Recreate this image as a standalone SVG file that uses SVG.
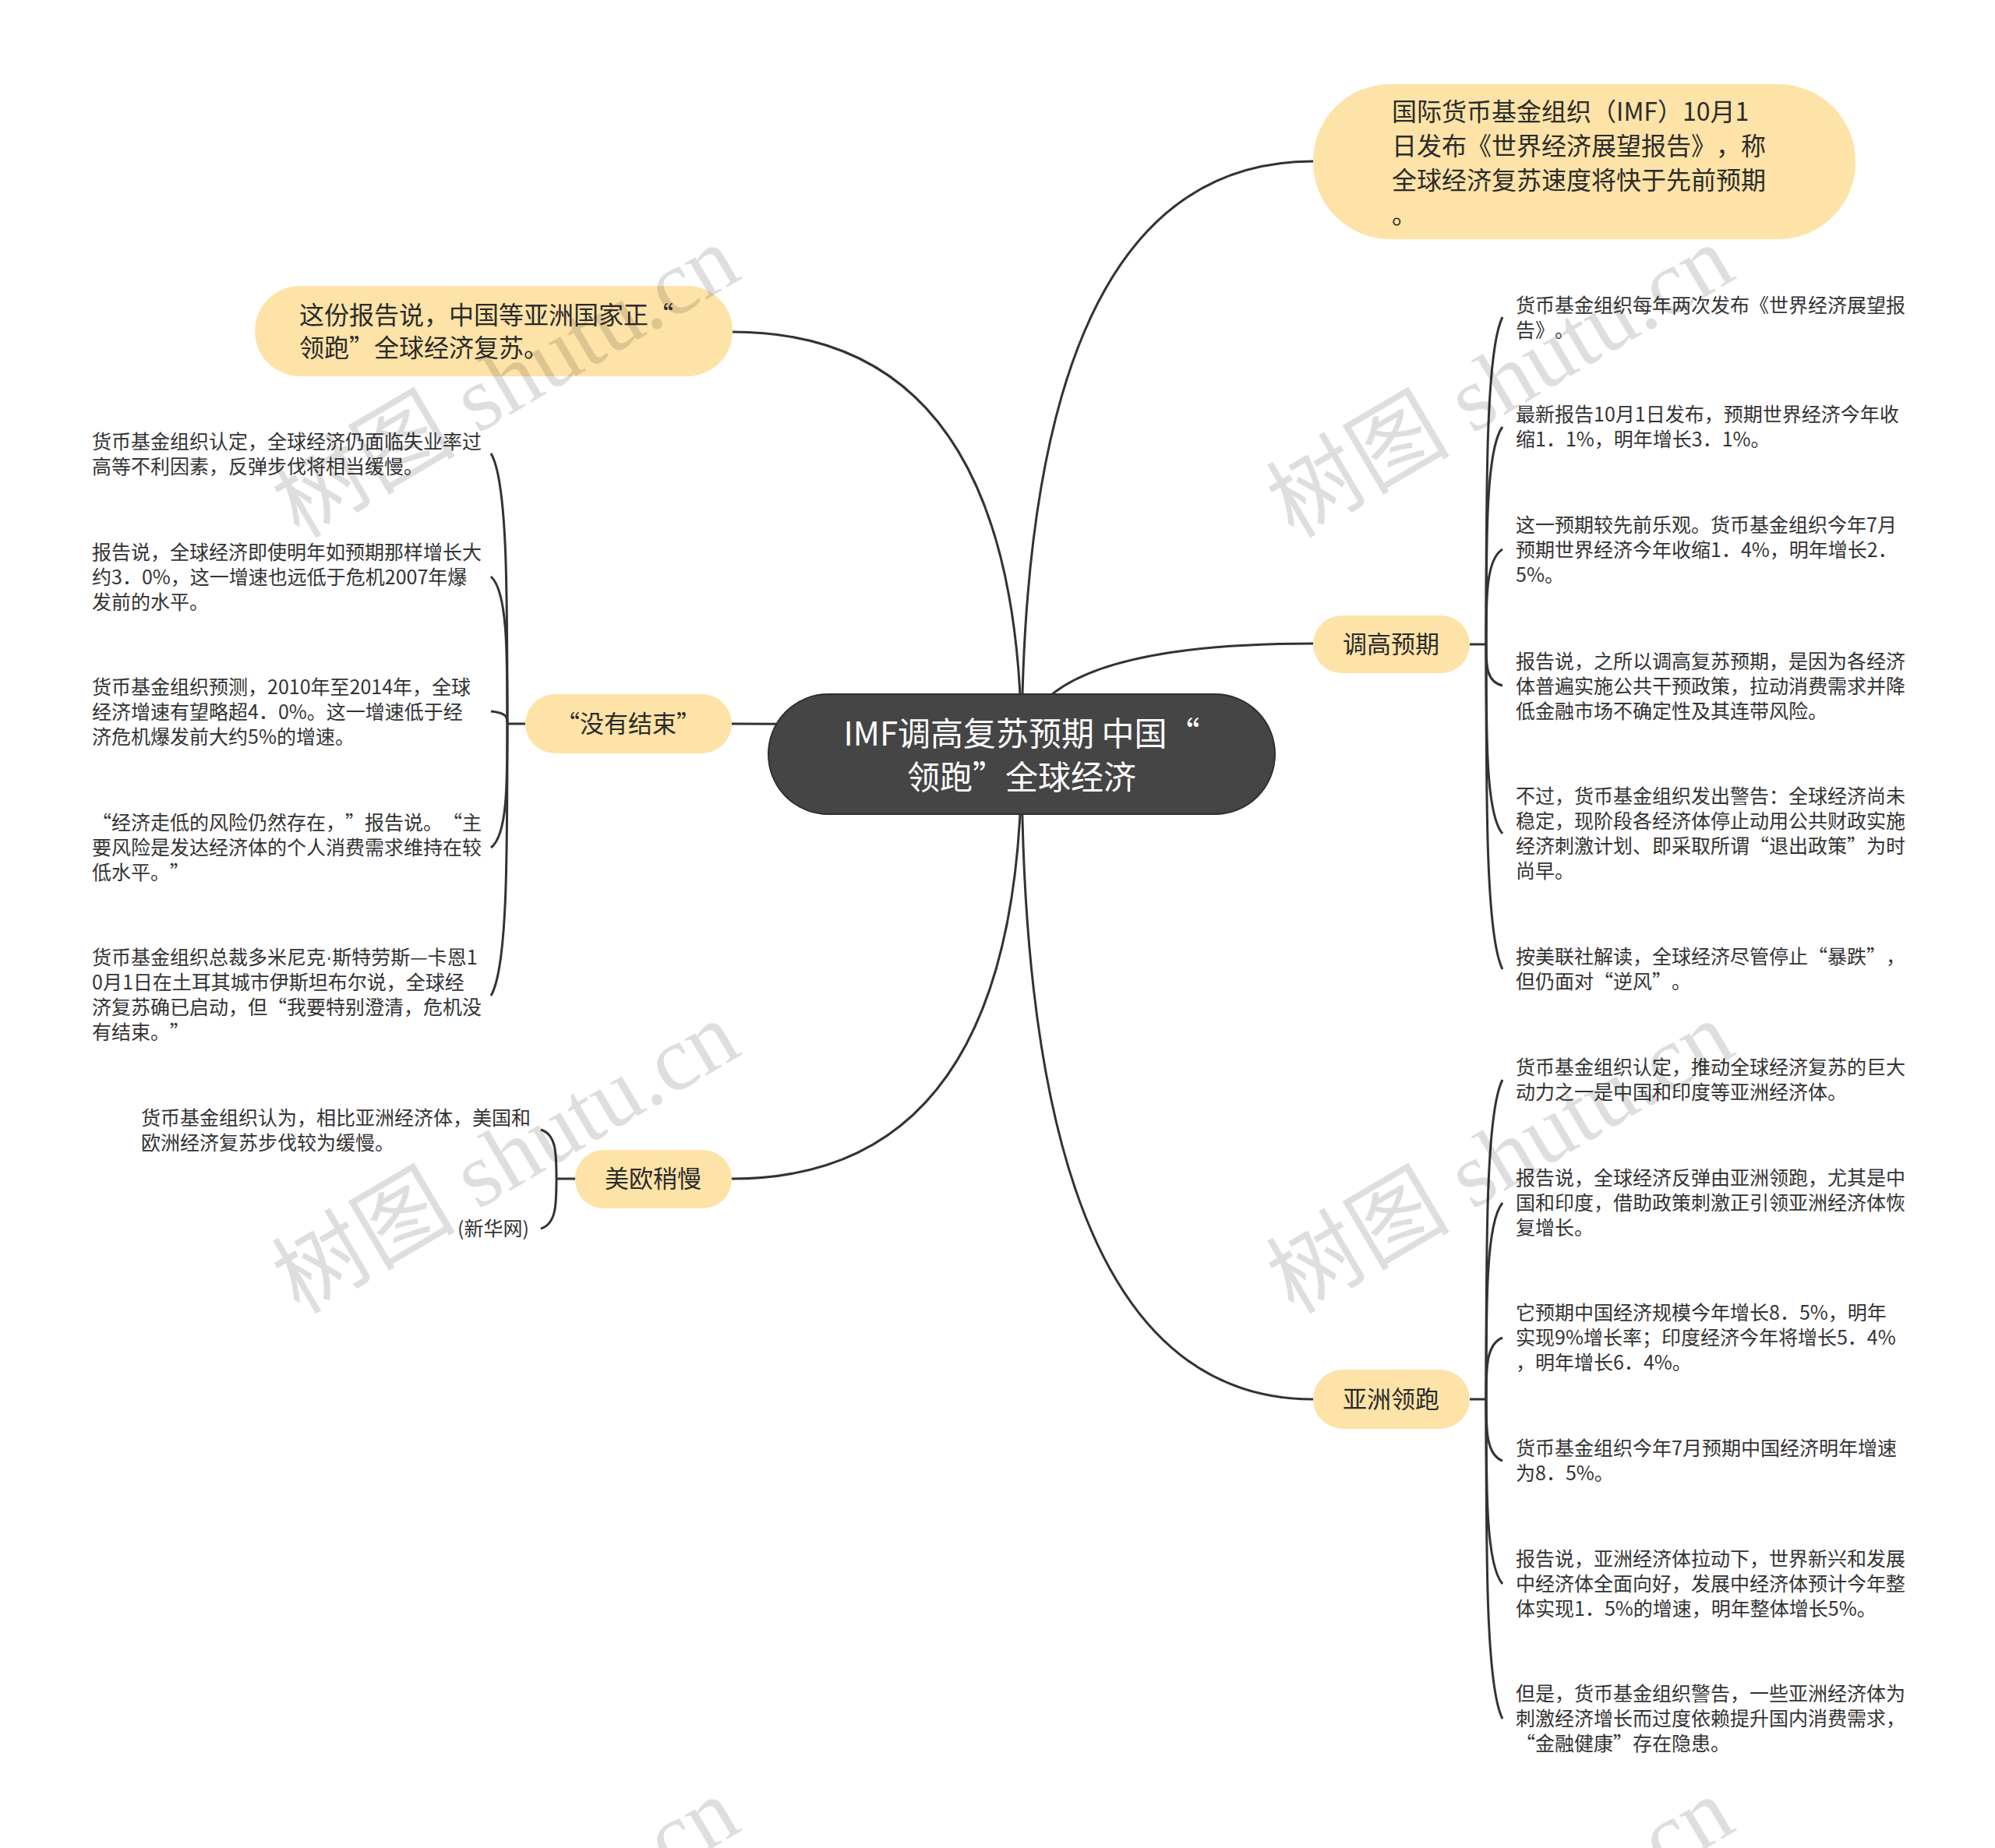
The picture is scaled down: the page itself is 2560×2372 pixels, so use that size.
<svg xmlns="http://www.w3.org/2000/svg" width="2560" height="2372" viewBox="0 0 2560 2372">
<style>
.conn{fill:none;stroke:#333;stroke-width:3}
.br{fill:none;stroke:#333;stroke-width:3}
.yn{fill:#FDE3A7}
.t{font-family:"Noto Sans CJK SC","Noto Sans",sans-serif;fill:#2b2b2b;text-spacing-trim:space-all}
.l1{font-size:31px;text-anchor:middle}
.leaf{font-size:25px;fill:#333}
.ls{font-family:"Liberation Sans",sans-serif}
.wm{font-family:"Liberation Serif","Noto Sans CJK SC",serif;font-size:118px;fill:#000;fill-opacity:0.13}
</style>
<rect width="2560" height="2372" fill="#fff"/>
<g id="connectors">
<path class="conn" d="M1311 968 Q1311 207 1685 207"/>
<path class="conn" d="M1311 968 Q1311 826 1685 826"/>
<path class="conn" d="M1311 968 Q1311 1796 1685 1796"/>
<path class="conn" d="M1311 968 Q1311 1513 939 1513"/>
<path class="conn" d="M1311 968 Q1311 426 940 426"/>
<path class="conn" d="M1311 968 Q1311 929 939 929"/>
<path class="br" d="M1886 827 L1907 827"/>
<path class="br" d="M1907 827 C1907 617 1907 449 1928 407"/>
<path class="br" d="M1907 827 C1907 688 1907 576 1928 548"/>
<path class="br" d="M1907 827 C1907 766 1907 718 1928 705"/>
<path class="br" d="M1907 827 C1907 854 1907 875 1928 880"/>
<path class="br" d="M1907 827 C1907 948 1907 1046 1928 1070"/>
<path class="br" d="M1907 827 C1907 1035 1907 1202 1928 1244"/>
<path class="br" d="M1886 1796 L1907 1796"/>
<path class="br" d="M1907 1796 C1907 1591 1907 1427 1928 1386"/>
<path class="br" d="M1907 1796 C1907 1670 1907 1569 1928 1544"/>
<path class="br" d="M1907 1796 C1907 1756 1907 1725 1928 1717"/>
<path class="br" d="M1907 1796 C1907 1835 1907 1867 1928 1875"/>
<path class="br" d="M1907 1796 C1907 1914 1907 2009 1928 2033"/>
<path class="br" d="M1907 1796 C1907 2001 1907 2165 1928 2206"/>
<path class="br" d="M674 929 L651 929"/>
<path class="br" d="M651 929 C651 756 651 617 630 582"/>
<path class="br" d="M651 929 C651 835 651 759 630 740"/>
<path class="br" d="M651 929 C651 921 651 915 630 913"/>
<path class="br" d="M651 929 C651 1008 651 1072 630 1088"/>
<path class="br" d="M651 929 C651 1103 651 1243 630 1278"/>
<path class="br" d="M738 1513 L714 1513"/>
<path class="br" d="M714 1513 C714 1481 714 1456 694 1450"/>
<path class="br" d="M714 1513 C714 1545 714 1571 694 1577"/>
</g>
<g id="center">
<rect x="986" y="891" width="650" height="154" rx="77" fill="#454545" stroke="#2e2e2e" stroke-width="2"/>
<text class="t" font-size="42" text-anchor="middle" style="fill:#fff"><tspan x="1311" y="957">IMF调高复苏预期 中国“</tspan><tspan x="1311" y="1013">领跑”全球经济</tspan></text>
</g>
<g id="n-imf">
<rect class="yn" x="1685" y="108" width="696" height="199" rx="99"/>
<text class="t" font-size="32"><tspan x="1786" y="155">国际货币基金组织（IMF）10月1</tspan><tspan x="1786" y="199">日发布《世界经济展望报告》，称</tspan><tspan x="1786" y="243">全球经济复苏速度将快于先前预期</tspan><tspan x="1786" y="287">。</tspan></text>
</g>
<g id="n-report">
<rect class="yn" x="327" y="367" width="613" height="116" rx="58"/>
<text class="t" font-size="32"><tspan x="384" y="416">这份报告说，中国等亚洲国家正“</tspan><tspan x="384" y="458">领跑”全球经济复苏。</tspan></text>
</g>
<g id="n-notover">
<rect class="yn" x="674" y="891" width="265" height="76" rx="38"/>
<text class="t l1" x="806" y="940">“没有结束”</text>
</g>
<g id="n-useu">
<rect class="yn" x="738" y="1476" width="201" height="75" rx="37"/>
<text class="t l1" x="838" y="1524">美欧稍慢</text>
</g>
<g id="n-raise">
<rect class="yn" x="1685" y="790" width="201" height="74" rx="37"/>
<text class="t l1" x="1785" y="838">调高预期</text>
</g>
<g id="n-asia">
<rect class="yn" x="1685" y="1758" width="201" height="76" rx="38"/>
<text class="t l1" x="1785" y="1807">亚洲领跑</text>
</g>
<g id="leaves-raise" class="t leaf">
<text><tspan x="1945" y="401">货币基金组织每年两次发布《世界经济展望报</tspan><tspan x="1945" y="433">告》。</tspan></text>
<text><tspan x="1945" y="541">最新报告10月1日发布，预期世界经济今年收</tspan><tspan x="1945" y="573">缩1．1%，明年增长3．1%。</tspan></text>
<text><tspan x="1945" y="683">这一预期较先前乐观。货币基金组织今年7月</tspan><tspan x="1945" y="715">预期世界经济今年收缩1．4%，明年增长2．</tspan><tspan x="1945" y="747">5%。</tspan></text>
<text><tspan x="1945" y="858">报告说，之所以调高复苏预期，是因为各经济</tspan><tspan x="1945" y="890">体普遍实施公共干预政策，拉动消费需求并降</tspan><tspan x="1945" y="922">低金融市场不确定性及其连带风险。</tspan></text>
<text><tspan x="1945" y="1031">不过，货币基金组织发出警告：全球经济尚未</tspan><tspan x="1945" y="1063">稳定，现阶段各经济体停止动用公共财政实施</tspan><tspan x="1945" y="1095">经济刺激计划、即采取所谓“退出政策”为时</tspan><tspan x="1945" y="1127">尚早。</tspan></text>
<text><tspan x="1945" y="1237">按美联社解读，全球经济尽管停止“暴跌”，</tspan><tspan x="1945" y="1269">但仍面对“逆风”。</tspan></text>
</g>
<g id="leaves-asia" class="t leaf">
<text><tspan x="1945" y="1379">货币基金组织认定，推动全球经济复苏的巨大</tspan><tspan x="1945" y="1411">动力之一是中国和印度等亚洲经济体。</tspan></text>
<text><tspan x="1945" y="1521">报告说，全球经济反弹由亚洲领跑，尤其是中</tspan><tspan x="1945" y="1553">国和印度，借助政策刺激正引领亚洲经济体恢</tspan><tspan x="1945" y="1585">复增长。</tspan></text>
<text><tspan x="1945" y="1694">它预期中国经济规模今年增长8．5%，明年</tspan><tspan x="1945" y="1726">实现9%增长率；印度经济今年将增长5．4%</tspan><tspan x="1945" y="1758">，明年增长6．4%。</tspan></text>
<text><tspan x="1945" y="1868">货币基金组织今年7月预期中国经济明年增速</tspan><tspan x="1945" y="1900">为8．5%。</tspan></text>
<text><tspan x="1945" y="2010">报告说，亚洲经济体拉动下，世界新兴和发展</tspan><tspan x="1945" y="2042">中经济体全面向好，发展中经济体预计今年整</tspan><tspan x="1945" y="2074">体实现1．5%的增速，明年整体增长5%。</tspan></text>
<text><tspan x="1945" y="2183">但是，货币基金组织警告，一些亚洲经济体为</tspan><tspan x="1945" y="2215">刺激经济增长而过度依赖提升国内消费需求，</tspan><tspan x="1945" y="2247">“金融健康”存在隐患。</tspan></text>
</g>
<g id="leaves-notover" class="t leaf">
<text><tspan x="118" y="576">货币基金组织认定，全球经济仍面临失业率过</tspan><tspan x="118" y="608">高等不利因素，反弹步伐将相当缓慢。</tspan></text>
<text><tspan x="118" y="718">报告说，全球经济即使明年如预期那样增长大</tspan><tspan x="118" y="750">约3．0%，这一增速也远低于危机2007年爆</tspan><tspan x="118" y="782">发前的水平。</tspan></text>
<text><tspan x="118" y="891">货币基金组织预测，2010年至2014年，全球</tspan><tspan x="118" y="923">经济增速有望略超4．0%。这一增速低于经</tspan><tspan x="118" y="955">济危机爆发前大约5%的增速。</tspan></text>
<text><tspan x="118" y="1065">“经济走低的风险仍然存在，”报告说。“主</tspan><tspan x="118" y="1097">要风险是发达经济体的个人消费需求维持在较</tspan><tspan x="118" y="1129">低水平。”</tspan></text>
<text><tspan x="118" y="1238">货币基金组织总裁多米尼克<tspan class="ls">·</tspan>斯特劳斯—卡恩1</tspan><tspan x="118" y="1270">0月1日在土耳其城市伊斯坦布尔说，全球经</tspan><tspan x="118" y="1302">济复苏确已启动，但“我要特别澄清，危机没</tspan><tspan x="118" y="1334">有结束。”</tspan></text>
</g>
<g id="leaves-useu" class="t leaf">
<text><tspan x="181" y="1444">货币基金组织认为，相比亚洲经济体，美国和</tspan><tspan x="181" y="1476">欧洲经济复苏步伐较为缓慢。</tspan></text>
<text x="679" y="1586" text-anchor="end">(新华网)</text>
</g>
<g id="watermark" class="wm">
<text transform="translate(384 692) rotate(-30.5)">树图 shutu.cn</text>
<text transform="translate(1660 692) rotate(-30.5)">树图 shutu.cn</text>
<text transform="translate(384 1688) rotate(-30.5)">树图 shutu.cn</text>
<text transform="translate(1660 1688) rotate(-30.5)">树图 shutu.cn</text>
<text transform="translate(384 2684) rotate(-30.5)">树图 shutu.cn</text>
<text transform="translate(1660 2684) rotate(-30.5)">树图 shutu.cn</text>
</g>
</svg>
